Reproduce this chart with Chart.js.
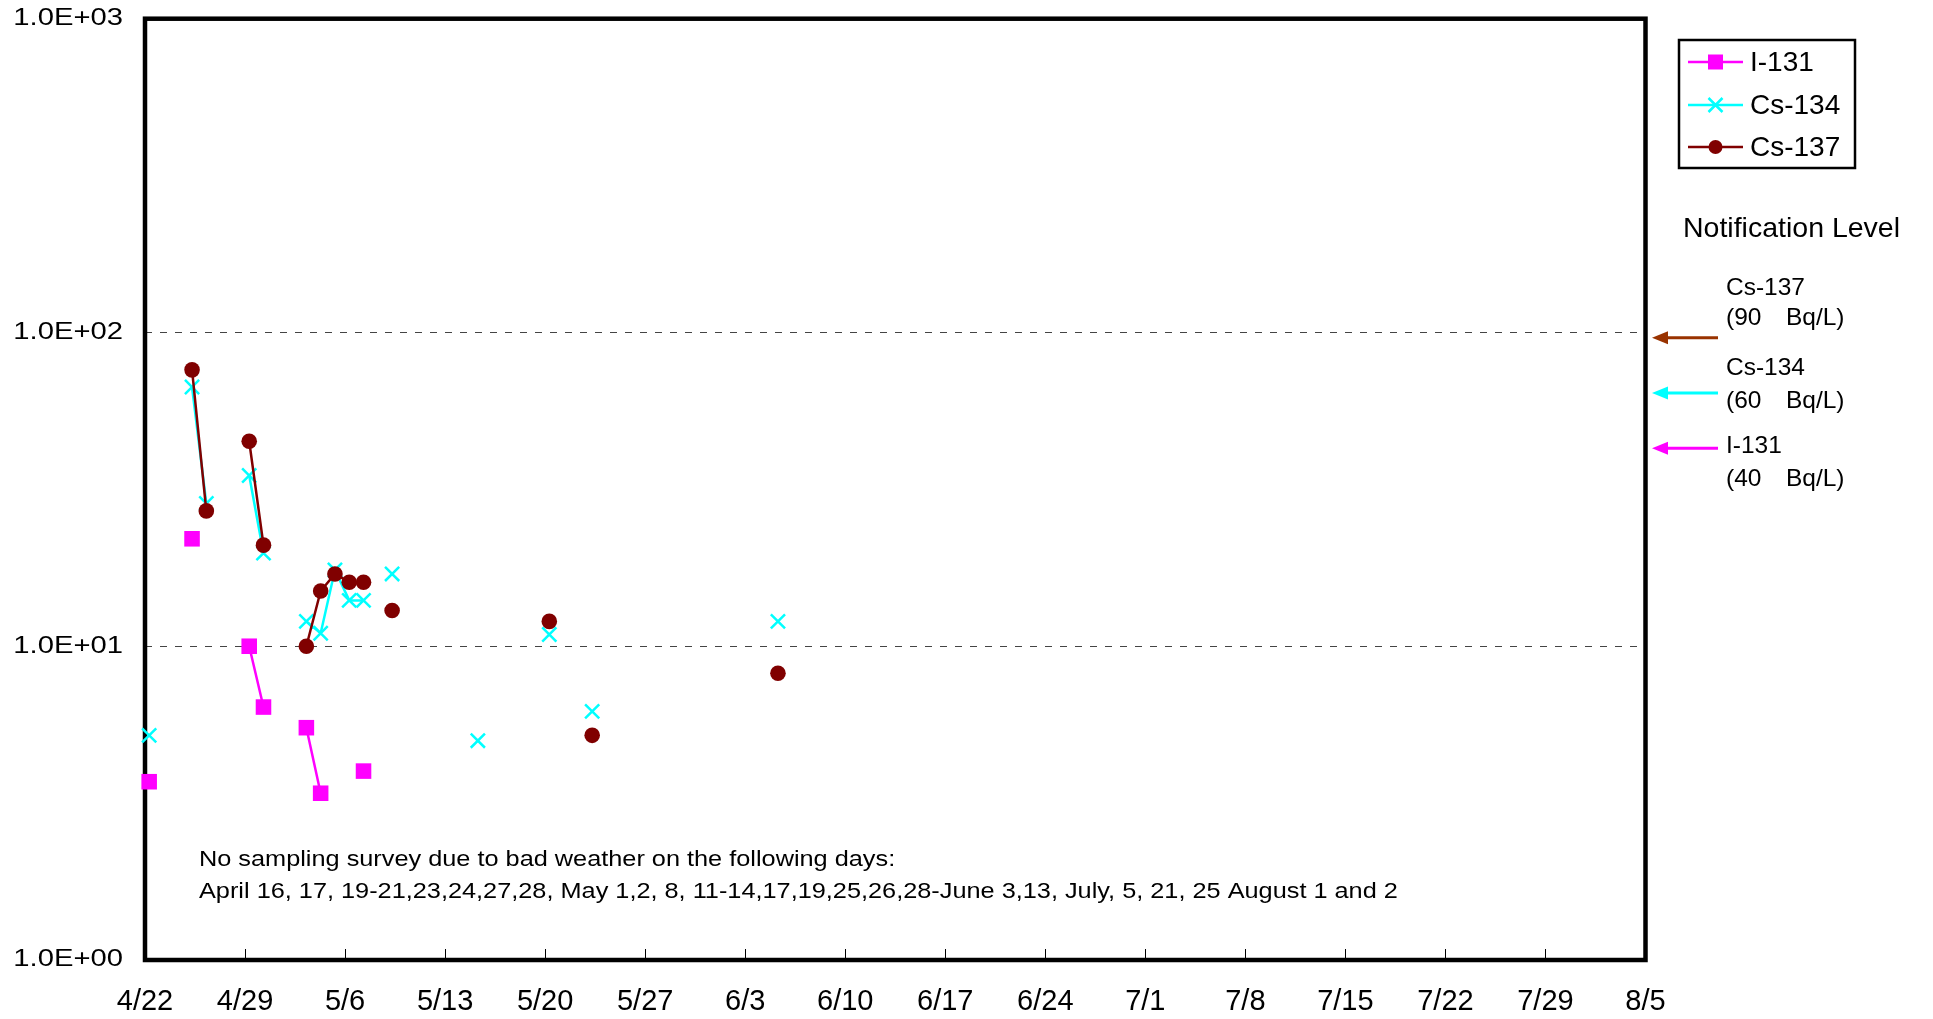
<!DOCTYPE html>
<html>
<head>
<meta charset="utf-8">
<title>Seawater monitoring</title>
<script src="https://cdn.jsdelivr.net/npm/chart.js@4"></script>
<style>
  body { margin: 0; background: #fff; }
  #wrap { width: 1933px; height: 1019px; }
</style>
</head>
<body>
<div id="wrap"><canvas id="chart"></canvas></div>
<script>
// sampling days (M/D, 2011) and measured values in Bq/L, null = not detected
const sampleDates = ['4/22', '4/25', '4/26', '4/29', '4/30', '5/3', '5/4', '5/5', '5/6', '5/7', '5/9', '5/15', '5/20', '5/23', '6/5'];
const i131  = [3.7, 22, null, 10, 6.4, 5.5, 3.4, null, null, 4.0, null, null, null, null, null];
const cs134 = [5.2, 67, 28.5, 35, 19.8, 12, 11, 17.5, 14, 14, 17, 5.0, 10.9, 6.2, 12];
const cs137 = [null, 76, 27, 45, 21, 10, 15, 17, 16, 16, 13, null, 12, 5.2, 8.2];

const xTickLabels = ['4/22', '4/29', '5/6', '5/13', '5/20', '5/27', '6/3', '6/10', '6/17', '6/24', '7/1', '7/8', '7/15', '7/22', '7/29', '8/5'];
const yTickValues = [1, 10, 100, 1000];
const yTickLabels = ['1.0E+00', '1.0E+01', '1.0E+02', '1.0E+03'];

const levelNames = ['Cs-137', 'Cs-134', 'I-131'];
const levelValues = [90, 60, 40];

const noteLines = [
  'No sampling survey due to bad weather on the following days:',
  'April 16, 17, 19-21,23,24,27,28, May 1,2, 8, 11-14,17,19,25,26,28-June 3,13, July, 5, 21, 25 August 1 and 2'
];

const SAMPLE_HOUR = 7;
const START = Date.UTC(2011, 3, 22);
function dayOf(md) {
  const [m, d] = md.split('/').map(Number);
  return (Date.UTC(2011, m - 1, d) - START) / 86400000;
}
// break the line wherever a day is missing
function toPoints(values) {
  const pts = [];
  let prev = null;
  sampleDates.forEach((md, i) => {
    const day = dayOf(md);
    if (prev !== null && day - prev > 1) pts.push({ x: prev + 0.5, y: null });
    pts.push({ x: day + SAMPLE_HOUR / 24, y: values[i] });
    prev = day;
  });
  return pts;
}

const FONT = '"Liberation Sans", Arial, sans-serif';
const colors = { i131: '#ff00ff', cs134: '#00ffff', cs137: '#800000' };

// draw text horizontally stretched (the original picture was widened)
function withStretch(ctx, sx, draw) {
  const orig = ctx.fillText;
  ctx.fillText = function (t, x, y, w) {
    this.save();
    this.translate(x, y);
    this.scale(sx, 1);
    if (w === undefined) orig.call(this, t, 0, 0);
    else orig.call(this, t, 0, 0, w);
    this.restore();
  };
  try { draw(); } finally { delete ctx.fillText; }
}

const yStretch = {
  id: 'yStretch',
  beforeDraw(chart) {
    const y = chart.scales.y;
    if (!y._stretched) {
      const orig = y.drawLabels;
      y.drawLabels = function (area) {
        withStretch(this.ctx, 1.27, () => orig.call(this, area));
      };
      y._stretched = true;
    }
  }
};

const frame = {
  id: 'frame',
  beforeDatasetsDraw(chart) {
    const { ctx, chartArea: a } = chart;
    ctx.save();
    ctx.lineWidth = 4.5;
    ctx.strokeStyle = '#000';
    ctx.strokeRect(a.left, a.top, a.right - a.left, a.bottom - a.top);
    ctx.restore();
  }
};

function marker(ctx, style, x, y, color) {
  ctx.fillStyle = color;
  ctx.strokeStyle = color;
  if (style === 'rect') {
    ctx.fillRect(x - 7.5, y - 7.5, 15, 15);
  } else if (style === 'circle') {
    ctx.beginPath();
    ctx.arc(x, y, 7, 0, Math.PI * 2);
    ctx.fill();
  } else {
    ctx.lineWidth = 2.5;
    ctx.beginPath();
    ctx.moveTo(x - 7, y - 7); ctx.lineTo(x + 7, y + 7);
    ctx.moveTo(x + 7, y - 7); ctx.lineTo(x - 7, y + 7);
    ctx.stroke();
  }
}

const extras = {
  id: 'extras',
  afterDraw(chart) {
    const ctx = chart.ctx;
    const yScale = chart.scales.y;
    ctx.save();
    // legend box
    ctx.lineWidth = 2.5;
    ctx.strokeStyle = '#000';
    ctx.strokeRect(1679, 40, 176, 128);
    const items = [
      ['I-131', 'rect', colors.i131, 62],
      ['Cs-134', 'cross', colors.cs134, 105],
      ['Cs-137', 'circle', colors.cs137, 147]
    ];
    ctx.font = '28px ' + FONT;
    ctx.textBaseline = 'middle';
    ctx.textAlign = 'left';
    items.forEach(([label, style, color, y]) => {
      ctx.strokeStyle = color;
      ctx.lineWidth = 2.5;
      ctx.beginPath();
      ctx.moveTo(1688, y); ctx.lineTo(1743, y);
      ctx.stroke();
      marker(ctx, style, 1715.5, y, color);
      ctx.fillStyle = '#000';
      ctx.fillText(label, 1750, y + 1);
    });

    ctx.fillStyle = '#000';
    ctx.font = '28.5px ' + FONT;
    ctx.fillText('Notification Level', 1683, 229);

    // arrows to notification levels
    const arrowColors = ['#993300', '#00ffff', '#ff00ff'];
    const textOffsets = [[-50, -20], [-25, 8], [-2, 31]];
    ctx.font = '24.5px ' + FONT + ', "Noto Sans CJK JP"';
    levelValues.forEach((v, i) => {
      const y = yScale.getPixelForValue(v) - 9;
      ctx.strokeStyle = arrowColors[i];
      ctx.fillStyle = arrowColors[i];
      ctx.lineWidth = 3;
      ctx.beginPath();
      ctx.moveTo(1664, y); ctx.lineTo(1718, y);
      ctx.stroke();
      ctx.beginPath();
      ctx.moveTo(1652, y); ctx.lineTo(1668, y - 6.5); ctx.lineTo(1668, y + 6.5);
      ctx.closePath();
      ctx.fill();
      ctx.fillStyle = '#000';
      ctx.fillText(levelNames[i], 1726, y + textOffsets[i][0]);
      ctx.fillText('(' + v + '\u3000Bq/L)', 1726, y + textOffsets[i][1]);
    });

    // note
    ctx.font = '22px ' + FONT;
    ctx.fillStyle = '#000';
    withStretch(ctx, 1.15, () => {
      ctx.fillText(noteLines[0], 199, 860);
      ctx.fillText(noteLines[1], 199, 892);
    });
    ctx.restore();
  }
};

function dataset(label, values, color, style, radius, order) {
  return {
    label,
    data: toPoints(values),
    borderColor: color,
    backgroundColor: color,
    borderWidth: 2.5,
    pointStyle: style,
    pointRadius: radius,
    pointBorderWidth: style === 'crossRot' ? 2.5 : 0,
    pointHoverRadius: radius,
    spanGaps: false,
    tension: 0,
    clip: false,
    order
  };
}

new Chart(document.getElementById('chart'), {
  type: 'line',
  data: {
    datasets: [
      dataset('I-131', i131, colors.i131, 'rect', 11, 3),
      dataset('Cs-134', cs134, colors.cs134, 'crossRot', 10, 2),
      dataset('Cs-137', cs137, colors.cs137, 'circle', 7.8, 1)
    ]
  },
  options: {
    responsive: true,
    maintainAspectRatio: false,
    animation: false,
    layout: { padding: { top: 18.7, right: 287.5, left: 0, bottom: 0 } },
    plugins: { legend: { display: false }, tooltip: { enabled: false } },
    scales: {
      x: {
        type: 'linear',
        min: 0,
        max: 105,
        afterFit(s) { s.height = 59; },
        border: { display: false },
        grid: { drawOnChartArea: false, drawTicks: true, tickLength: -11, color: '#000', lineWidth: 1 },
        ticks: {
          stepSize: 7,
          autoSkip: false,
          maxRotation: 0,
          padding: 36,
          color: '#000',
          font: { family: FONT, size: 29 },
          callback: (v, i) => xTickLabels[i]
        }
      },
      y: {
        type: 'logarithmic',
        min: 1,
        max: 1000,
        afterFit(s) { s.width = 145; s.paddingTop = 0; s.paddingBottom = 0; },
        afterBuildTicks(s) { s.ticks = yTickValues.map(v => ({ value: v })); },
        border: { display: false, dash: [7, 8] },
        grid: {
          drawTicks: false,
          lineWidth: 1,
          color: c => (c.tick && (c.tick.value === 10 || c.tick.value === 100)) ? '#444' : 'rgba(0,0,0,0)'
        },
        ticks: {
          padding: 22,
          color: '#000',
          font: { family: FONT, size: 23 },
          callback: v => yTickLabels[yTickValues.indexOf(v)]
        }
      }
    }
  },
  plugins: [yStretch, frame, extras]
});
</script>
</body>
</html>
